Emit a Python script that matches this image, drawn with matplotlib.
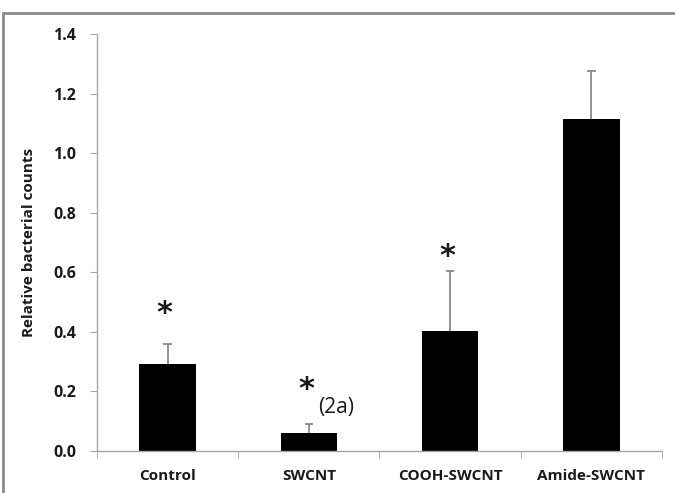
import matplotlib
matplotlib.use("Agg")
import matplotlib.pyplot as plt
from matplotlib.patches import Rectangle
import numpy as np

plt.rcParams["font.family"] = ["Open Sans", "DejaVu Sans"]

categories = ["Control", "SWCNT", "COOH-SWCNT", "Amide-SWCNT"]
values = [0.292, 0.059, 0.404, 1.113]
errors = [0.068, 0.031, 0.200, 0.162]
# anchor height of the significance asterisk over each group (None = not marked)
star_heights = [0.46, 0.205, 0.652, None]
y_ticks = [0.0, 0.2, 0.4, 0.6, 0.8, 1.0, 1.2, 1.4]

AXIS_GREY = "#a6a6a6"
ERR_GREY = "#808080"
TEXT = "#1a1a1a"

fig = plt.figure(figsize=(6.75, 4.93), dpi=100)
ax = fig.add_axes([0.1437, 0.0852, 0.837, 0.846])

x = np.arange(len(categories))
vals = np.array(values)
errs = np.array(errors)
ax.bar(x, vals, width=0.4, color="black", zorder=2)

# upper-only error bars with a short cap
ax.vlines(x, vals, vals + errs, color=ERR_GREY, linewidth=1.2, zorder=1)
ax.hlines(vals + errs, x - 0.03, x + 0.03, color=ERR_GREY, linewidth=1.2, zorder=1)

for xi, h in zip(x, star_heights):
    if h is not None:
        ax.text(xi - 0.02, h, "*", ha="center", va="center",
                fontsize=22, fontweight="bold", color=TEXT,
                family="DejaVu Sans")
ax.text(x[1] + 0.19, 0.145, "(2a)", ha="center", va="center",
        fontsize=15, color=TEXT)

ax.set_xlim(-0.5, 3.5)
ax.set_ylim(0, 1.4)
ax.set_yticks(y_ticks)
ax.set_yticklabels([f"{t:.1f}" for t in y_ticks], fontsize=11.5,
                   fontweight="bold", color=TEXT)
ax.set_xticks(x)
ax.set_xticklabels(categories, fontsize=11, fontweight="bold", color=TEXT)
ax.set_xticks(np.arange(-0.5, 4.0, 1.0), minor=True)
ax.tick_params(axis="x", which="major", length=0, pad=13)
ax.tick_params(axis="x", which="minor", length=5, color=AXIS_GREY, direction="out")
ax.tick_params(axis="y", length=5, color=AXIS_GREY, direction="out", pad=10)
ax.set_ylabel("Relative bacterial counts", fontsize=11, fontweight="bold",
              color=TEXT, labelpad=12)

for side in ["top", "right"]:
    ax.spines[side].set_visible(False)
for side in ["left", "bottom"]:
    ax.spines[side].set_color(AXIS_GREY)
    ax.spines[side].set_linewidth(1.0)

# outer frame around the chart area
fig.patches.append(Rectangle((3 / 675, -0.1), 1.2, 1 - 13 / 493 + 0.1,
                             transform=fig.transFigure, fill=False,
                             edgecolor="#8a8a8a", linewidth=2))

fig.savefig("out.png", dpi=100)
plt.close(fig)
